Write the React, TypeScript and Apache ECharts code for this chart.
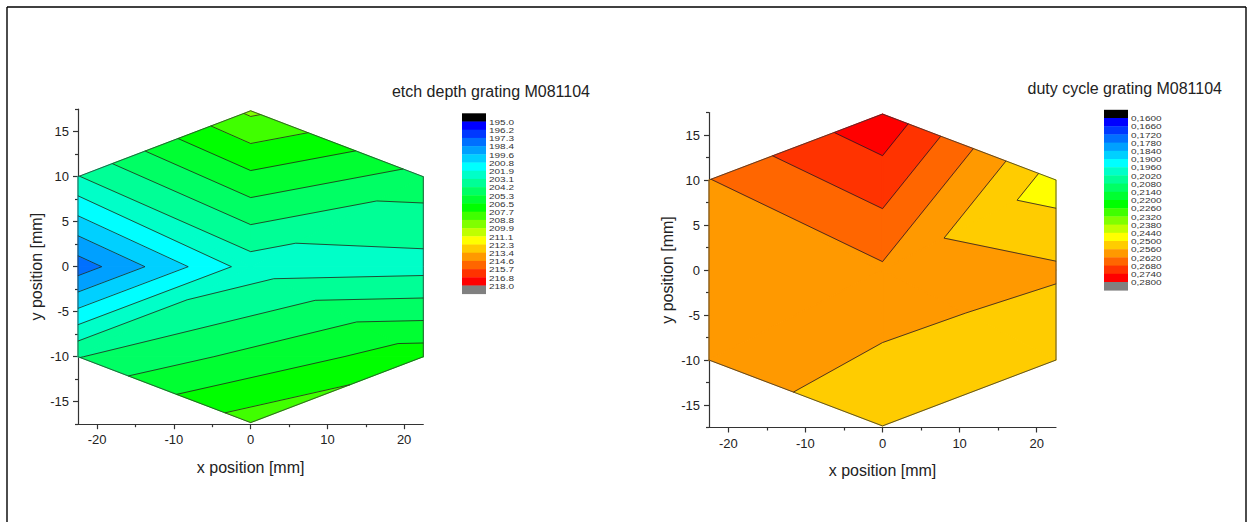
import React, { useEffect, useRef } from 'react';
import * as echarts from 'echarts';

// ---- measurement points (mm) ----
// index: 0 L, 1 C, 2 UL, 3 T, 4 UR, 5 R, 6 LR, 7 B, 8 LL
const pointX = [-22.5, 0, -22.5, 0, 22.5, 22.5, 22.5, 0, -22.5];
const pointY = [0, 0, 10, 17.32, 10, 0, -10, -17.32, -10];
const hexOutline = [3, 4, 5, 6, 7, 8, 0, 2];

// ---- etch depth (nm) ----
const etchDepth = [197.82, 202.41, 203.0, 209.04, 204.86, 202.6, 207.2, 208.26, 204.15];
const etchTriangles = [[0, 1, 2], [1, 2, 3], [1, 3, 4], [1, 4, 5], [0, 1, 8], [1, 8, 6], [8, 7, 6], [1, 6, 5]];
const etchLevels = [195.0, 196.15, 197.3, 198.45, 199.6, 200.75, 201.9, 203.05, 204.2, 205.35, 206.5, 207.65, 208.8, 209.95, 211.1, 212.25, 213.4, 214.55, 215.7, 216.85, 218.0];
const etchLabels = ['195.0', '196.2', '197.3', '198.4', '199.6', '200.8', '201.9', '203.1', '204.2', '205.3', '206.5', '207.7', '208.8', '209.9', '211.1', '212.3', '213.4', '214.6', '215.7', '216.8', '218.0'];

// ---- duty cycle ----
const dutyCycle = [0.259, 0.26105, 0.2618, 0.2787, 0.2468, 0.257, 0.2505, 0.2502, 0.2615];
const dutyTriangles = [[0, 1, 2], [1, 2, 3], [1, 3, 4], [1, 4, 5], [0, 1, 8], [1, 8, 7], [1, 7, 6], [1, 6, 5]];
const dutyLevels = [0.16, 0.166, 0.172, 0.178, 0.184, 0.19, 0.196, 0.202, 0.208, 0.214, 0.22, 0.226, 0.232, 0.238, 0.244, 0.25, 0.256, 0.262, 0.268, 0.274, 0.28];
const dutyLabels = ['0,1600', '0,1660', '0,1720', '0,1780', '0,1840', '0,1900', '0,1960', '0,2020', '0,2080', '0,2140', '0,2200', '0,2260', '0,2320', '0,2380', '0,2440', '0,2500', '0,2560', '0,2620', '0,2680', '0,2740', '0,2800'];

const bandColors = ['#0000ff', '#0038ff', '#0070ff', '#00a0ff', '#00d0ff', '#00ffff', '#00ffc8', '#00ff96', '#00ff64', '#00ff32', '#00ff00', '#40ff00', '#80ff00', '#c0ff00', '#ffff00', '#ffcc00', '#ff9900', '#ff6600', '#ff3300', '#ff0000'];
const belowColor = '#000000';
const aboveColor = '#808080';

const xMajor = [-20, -10, 0, 10, 20];
const xMinor = [-15, -5, 5, 15];
const yMajor = [-15, -10, -5, 0, 5, 10, 15];
const yMinor = [-17.5, -12.5, -7.5, -2.5, 2.5, 7.5, 12.5, 17.5];

const FONT = '"Liberation Sans", Arial, Helvetica, sans-serif';

type P = { x: number; y: number; v: number };

function clip(poly: P[], level: number, keepAbove: boolean): P[] {
  const out: P[] = [];
  for (let i = 0; i < poly.length; i++) {
    const a = poly[i];
    const b = poly[(i + 1) % poly.length];
    const ina = keepAbove ? a.v >= level : a.v <= level;
    const inb = keepAbove ? b.v >= level : b.v <= level;
    if (ina) out.push(a);
    if (ina !== inb) {
      const t = (level - a.v) / (b.v - a.v);
      out.push({ x: a.x + t * (b.x - a.x), y: a.y + t * (b.y - a.y), v: level });
    }
  }
  return out;
}

function triPoly(values: number[], tri: number[]): P[] {
  return tri.map((i) => ({ x: pointX[i], y: pointY[i], v: values[i] }));
}

function makeFill(values: number[], tris: number[][], levels: number[]) {
  return (params: any, api: any) => {
    const poly = triPoly(values, tris[params.dataIndex]);
    const children: any[] = [];
    for (let k = -1; k < levels.length; k++) {
      let p = poly;
      if (k >= 0) p = clip(p, levels[k], true);
      if (k < levels.length - 1) p = clip(p, levels[k + 1], false);
      if (p.length < 3) continue;
      const color = k < 0 ? belowColor : k >= levels.length - 1 ? aboveColor : bandColors[k];
      children.push({
        type: 'polygon',
        shape: { points: p.map((q) => api.coord([q.x, q.y])) },
        style: { fill: color, stroke: color, lineWidth: 1.1, lineJoin: 'round' },
      });
    }
    return { type: 'group', children };
  };
}

function makeLines(values: number[], tris: number[][], levels: number[]) {
  return (params: any, api: any) => {
    const poly = triPoly(values, tris[params.dataIndex]);
    const children: any[] = [];
    for (const L of levels) {
      const pts: number[][] = [];
      for (let i = 0; i < 3; i++) {
        const a = poly[i];
        const b = poly[(i + 1) % 3];
        if ((a.v - L) * (b.v - L) < 0) {
          const t = (L - a.v) / (b.v - a.v);
          pts.push(api.coord([a.x + t * (b.x - a.x), a.y + t * (b.y - a.y)]));
        }
      }
      if (pts.length === 2) {
        children.push({
          type: 'line',
          shape: { x1: pts[0][0], y1: pts[0][1], x2: pts[1][0], y2: pts[1][1] },
          style: { stroke: '#222', lineWidth: 0.8 },
        });
      }
    }
    return { type: 'group', children };
  };
}

function makeOutline() {
  return (_params: any, api: any) => ({
    type: 'polygon',
    shape: { points: hexOutline.map((i) => api.coord([pointX[i], pointY[i]])) },
    style: { fill: 'none', stroke: '#333', lineWidth: 0.8 },
  });
}

function centroids(tris: number[][]) {
  return tris.map((t) => [
    (pointX[t[0]] + pointX[t[1]] + pointX[t[2]]) / 3,
    (pointY[t[0]] + pointY[t[1]] + pointY[t[2]]) / 3,
  ]);
}

function xAxes(gridIndex: number) {
  const lineStyle = { color: '#333', width: 1.2 };
  return [
    {
      type: 'value', gridIndex, min: -22.5, max: 22.5, position: 'bottom',
      axisLine: { show: true, onZero: false, lineStyle },
      axisTick: { show: true, inside: false, length: 5, customValues: xMajor, lineStyle },
      axisLabel: { show: true, customValues: xMajor, margin: 9, fontSize: 13, color: '#222', fontFamily: FONT },
      splitLine: { show: false },
      name: 'x position [mm]', nameLocation: 'middle', nameGap: 35,
      nameTextStyle: { fontSize: 16, color: '#222', fontFamily: FONT },
    },
    {
      type: 'value', gridIndex, min: -22.5, max: 22.5, position: 'bottom', offset: 0,
      axisLine: { show: false, onZero: false },
      axisTick: { show: true, inside: false, length: 3, customValues: xMinor, lineStyle },
      axisLabel: { show: false },
      splitLine: { show: false },
    },
  ];
}

function yAxes(gridIndex: number) {
  const lineStyle = { color: '#333', width: 1.2 };
  return [
    {
      type: 'value', gridIndex, min: -17.5, max: 17.5, position: 'left',
      axisLine: { show: true, onZero: false, lineStyle },
      axisTick: { show: true, inside: false, length: 5, customValues: yMajor, lineStyle },
      axisLabel: { show: true, customValues: yMajor, margin: 9, fontSize: 13, color: '#222', fontFamily: FONT },
      splitLine: { show: false },
      name: 'y position [mm]', nameLocation: 'middle', nameGap: 34, nameRotate: 90,
      nameTextStyle: { fontSize: 16, color: '#222', fontFamily: FONT },
    },
    {
      type: 'value', gridIndex, min: -17.5, max: 17.5, position: 'left', offset: 0,
      axisLine: { show: false, onZero: false },
      axisTick: { show: true, inside: false, length: 3, customValues: yMinor, lineStyle },
      axisLabel: { show: false },
      splitLine: { show: false },
    },
  ];
}

function legendGraphic(x: number, top: number, labels: string[]) {
  const blockH = 8.2;
  const w = 24;
  const colors = [belowColor, ...bandColors, aboveColor];
  const children: any[] = colors.map((c, i) => ({
    type: 'rect',
    shape: { x, y: top + i * blockH, width: w, height: blockH + 0.4 },
    style: { fill: c },
  }));
  labels.forEach((lab, i) => {
    children.push({
      type: 'text',
      x: x + w + 3,
      y: top + (i + 1) * blockH + 0.6,
      scaleY: 0.78,
      style: {
        text: lab, x: 0, y: 0,
        verticalAlign: 'middle', align: 'left',
        font: `10px ${FONT}`, fill: '#333',
      },
    });
  });
  return { type: 'group', children };
}

export default function App() {
  const ref = useRef<HTMLDivElement>(null);
  useEffect(() => {
    if (!ref.current) return;
    const chart = echarts.init(ref.current, undefined, { renderer: 'svg' });
    const titleStyle = { fontSize: 16, fontWeight: 'normal', color: '#222', fontFamily: FONT };
    chart.setOption({
      animation: false,
      backgroundColor: '#ffffff',
      title: [
        { text: 'etch depth grating M081104', right: 657, top: 83, padding: 0, textStyle: titleStyle },
        { text: 'duty cycle grating M081104', right: 25, top: 80, padding: 0, textStyle: titleStyle },
      ],
      grid: [
        { left: 78, top: 109.2, width: 345.3, height: 315, outerBoundsMode: 'none' },
        { left: 709, top: 112.5, width: 347, height: 315, outerBoundsMode: 'none' },
      ],
      xAxis: [...xAxes(0), ...xAxes(1)],
      yAxis: [...yAxes(0), ...yAxes(1)],
      series: [
        { type: 'custom', xAxisIndex: 0, yAxisIndex: 0, silent: true, renderItem: makeFill(etchDepth, etchTriangles, etchLevels), data: centroids(etchTriangles) },
        { type: 'custom', xAxisIndex: 0, yAxisIndex: 0, silent: true, renderItem: makeLines(etchDepth, etchTriangles, etchLevels), data: centroids(etchTriangles) },
        { type: 'custom', xAxisIndex: 0, yAxisIndex: 0, silent: true, renderItem: makeOutline(), data: [[0, 0]] },
        { type: 'custom', xAxisIndex: 2, yAxisIndex: 2, silent: true, renderItem: makeFill(dutyCycle, dutyTriangles, dutyLevels), data: centroids(dutyTriangles) },
        { type: 'custom', xAxisIndex: 2, yAxisIndex: 2, silent: true, renderItem: makeLines(dutyCycle, dutyTriangles, dutyLevels), data: centroids(dutyTriangles) },
        { type: 'custom', xAxisIndex: 2, yAxisIndex: 2, silent: true, renderItem: makeOutline(), data: [[0, 0]] },
      ],
      graphic: [
        { type: 'line', shape: { x1: 7, y1: 7, x2: 1246, y2: 7 }, style: { stroke: '#000', lineWidth: 1.6 } },
        { type: 'line', shape: { x1: 7, y1: 7, x2: 7, y2: 522 }, style: { stroke: '#000', lineWidth: 1.4 } },
        { type: 'line', shape: { x1: 1246, y1: 7, x2: 1246, y2: 522 }, style: { stroke: '#000', lineWidth: 1.4 } },
        legendGraphic(462, 113.3, etchLabels),
        legendGraphic(1104, 109.8, dutyLabels),
      ],
    });
    return () => chart.dispose();
  }, []);
  return (
    <div
      ref={ref}
      style={{ position: 'absolute', left: 0, top: 0, width: 1247, height: 522, background: '#fff' }}
    />
  );
}
